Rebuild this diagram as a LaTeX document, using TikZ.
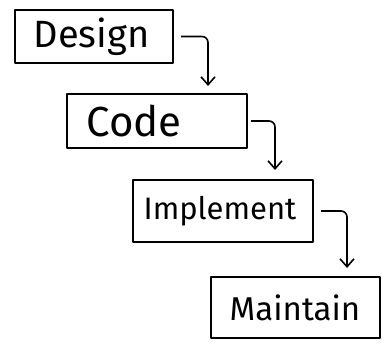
\documentclass[tikz,border=0pt]{standalone}
\usepackage{fontspec}
\setmainfont{Fira Sans}
\usetikzlibrary{shapes,arrows.meta}
\tikzstyle{stage}=[rectangle,draw=black,line width=2pt,inner sep=0pt,line join=round]
\tikzstyle{flow}=[line width=1.6pt,rounded corners=6pt,-{Straight Barb[length=8pt,width=14pt,line width=1.6pt]}]

\begin{document}
\begin{tikzpicture}[x=1pt,y=-1pt]
\useasboundingbox (0,0) rectangle (382,344);
\node[stage,minimum width=158pt,minimum height=53pt] (design) at (94,36.5) {\fontsize{38}{38}\selectfont Design\hspace*{5pt}};
\node[stage,minimum width=180pt,minimum height=54pt] (code) at (157,121) {\fontsize{42}{42}\selectfont Code\hspace*{46pt}};
\node[stage,minimum width=180pt,minimum height=62pt] (implement) at (223,211) {\fontsize{31}{31}\selectfont Implement\hspace*{6pt}};
\node[stage,minimum width=169pt,minimum height=61pt] (maintain) at (295,307.5) {\fontsize{33}{33}\selectfont Maintain};
\draw[flow,shorten <=7pt,shorten >=7pt] (design.east) -| ([xshift=51pt]code.north);
\draw[flow,shorten <=3pt,shorten >=9pt] (code.east) -| ([xshift=52pt]implement.north);
\draw[flow,shorten <=7pt,shorten >=8pt] (implement.east) -| ([xshift=52pt]maintain.north);
\end{tikzpicture}
\end{document}
